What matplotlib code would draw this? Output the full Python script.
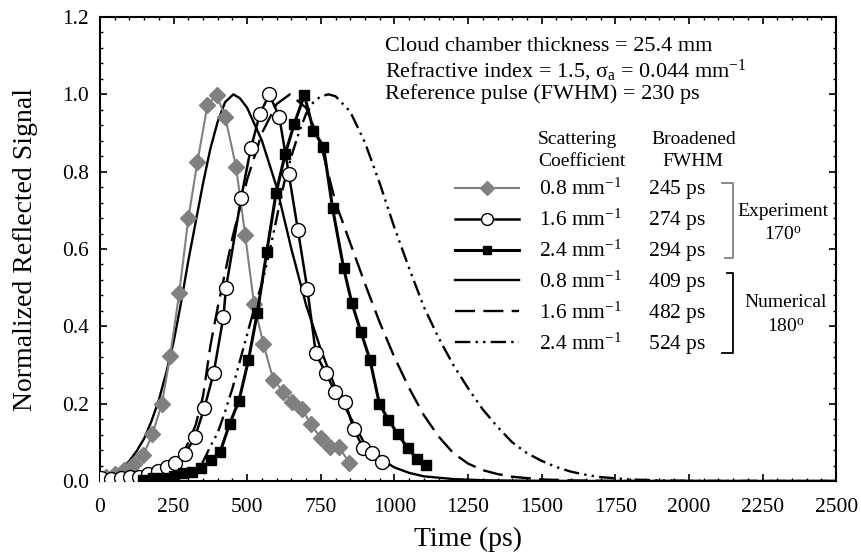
import matplotlib
matplotlib.use("Agg")
import matplotlib.pyplot as plt
from matplotlib.ticker import MultipleLocator

plt.rcParams['font.family'] = ['Liberation Serif', 'DejaVu Serif']
plt.rcParams['mathtext.fontset'] = 'custom'
plt.rcParams['mathtext.rm'] = 'Liberation Serif'
plt.rcParams['mathtext.it'] = 'Liberation Serif:italic'

# experiment, 0.8 mm-1 (grey diamonds)
exp08_t = [0, 20, 51, 83, 115, 147, 178, 210, 238, 269, 300, 331, 365, 396, 425,
           462, 493, 523, 555, 589, 623, 653, 687, 715, 750, 781, 813, 847]
exp08_v = [0.005, 0.010, 0.018, 0.028, 0.045, 0.067, 0.121, 0.199, 0.323, 0.485,
           0.679, 0.826, 0.972, 0.998, 0.942, 0.813, 0.636, 0.459, 0.354, 0.261,
           0.231, 0.205, 0.187, 0.147, 0.112, 0.088, 0.087, 0.046]

# experiment, 1.6 mm-1 (open circles)
exp16_t = [5, 36, 71, 102, 134, 164, 196, 226, 255, 289, 323, 354, 386, 419, 428,
           479, 512, 543, 575, 609, 641, 672, 704, 733, 766, 798, 832, 862, 894,
           924, 958]
exp16_v = [0.007, 0.006, 0.007, 0.011, 0.011, 0.018, 0.027, 0.035, 0.046, 0.070,
           0.115, 0.188, 0.279, 0.424, 0.500, 0.731, 0.860, 0.949, 1.000, 0.941,
           0.795, 0.650, 0.497, 0.330, 0.280, 0.231, 0.205, 0.134, 0.085, 0.073,
           0.048]

# experiment, 2.4 mm-1 (black squares)
exp24_t = [147, 181, 215, 250, 282, 311, 344, 378, 408, 440, 472, 504, 534, 566,
           598, 629, 660, 694, 725, 759, 790, 827, 855, 886, 917, 949, 979, 1011,
           1045, 1078, 1108]
exp24_v = [0.003, 0.008, 0.009, 0.013, 0.021, 0.022, 0.034, 0.054, 0.075, 0.147,
           0.208, 0.312, 0.434, 0.591, 0.745, 0.846, 0.924, 0.998, 0.906, 0.865,
           0.705, 0.552, 0.461, 0.386, 0.313, 0.199, 0.159, 0.122, 0.085, 0.056,
           0.041]

# numerical, 0.8 mm-1
num08_t = [0, 25, 50, 75, 100, 125, 150, 175, 200, 225, 250, 275, 300, 325, 350,
           375, 400, 425, 453, 475, 500, 550, 600, 650, 700, 750, 800, 850, 900,
           950, 1000, 1050, 1100, 1200, 1300, 1400, 1600, 2500]
num08_v = [0.002, 0.008, 0.02, 0.033, 0.052, 0.078, 0.11, 0.155, 0.21, 0.28, 0.36,
           0.46, 0.57, 0.67, 0.77, 0.86, 0.93, 0.98, 1.0, 0.99, 0.965, 0.88, 0.76,
           0.60, 0.455, 0.34, 0.24, 0.165, 0.095, 0.058, 0.035, 0.021, 0.012,
           0.005, 0.002, 0.001, 0.0, 0.0]

# numerical, 1.6 mm-1
num16_t = [0, 100, 150, 200, 250, 275, 300, 325, 350, 375, 400, 450, 500, 550, 600,
           645, 700, 750, 800, 850, 900, 950, 1000, 1050, 1100, 1150, 1200, 1250,
           1300, 1350, 1400, 1500, 1600, 1700, 1800, 2500]
num16_v = [0.0, 0.002, 0.006, 0.015, 0.035, 0.06, 0.10, 0.145, 0.22, 0.35, 0.45,
           0.63, 0.78, 0.90, 0.975, 1.0, 0.965, 0.87, 0.72, 0.615, 0.51, 0.41, 0.32,
           0.24, 0.17, 0.115, 0.072, 0.045, 0.028, 0.018, 0.011, 0.004, 0.0015,
           0.0005, 0.0, 0.0]

# numerical, 2.4 mm-1
num24_t = [0, 200, 250, 300, 325, 350, 375, 400, 425, 450, 475, 500, 525, 550, 575,
           600, 625, 650, 675, 700, 725, 750, 776, 800, 850, 900, 950, 1000, 1050,
           1100, 1150, 1200, 1250, 1300, 1350, 1400, 1450, 1500, 1550, 1600, 1650,
           1700, 1800, 1900, 2000, 2100, 2500]
num24_v = [0.0, 0.001, 0.006, 0.018, 0.03, 0.05, 0.09, 0.125, 0.18, 0.24, 0.31,
           0.38, 0.45, 0.51, 0.59, 0.68, 0.77, 0.84, 0.90, 0.95, 0.98, 0.995, 1.0,
           0.995, 0.955, 0.875, 0.77, 0.655, 0.55, 0.45, 0.37, 0.30, 0.24, 0.185,
           0.14, 0.10, 0.072, 0.052, 0.036, 0.024, 0.016, 0.01, 0.004, 0.0015,
           0.0005, 0.0, 0.0]

coefs = ["0.8", "1.6", "2.4", "0.8", "1.6", "2.4"]
fwhm = [245, 274, 294, 409, 482, 524]
labels = [c + r" mm$^{-1}$     " + str(f) + " ps" for c, f in zip(coefs, fwhm)]

grey = '#808080'

fig = plt.figure(figsize=(8.62, 5.58), dpi=100)
ax = fig.add_axes([0.116, 0.138, 0.854, 0.8315])

ax.plot(exp08_t, exp08_v, color=grey, lw=1.5, marker='D', ms=8.5, mfc=grey,
        mec=grey, label=labels[0], zorder=4)
ax.plot(exp16_t, exp16_v, color='black', lw=1.8, marker='o', ms=10, mfc='white',
        mec='black', mew=1.0, label=labels[1], zorder=5)
ax.plot(exp24_t, exp24_v, color='black', lw=2.2, marker='s', ms=7, mfc='black',
        mec='black', label=labels[2], zorder=6)
ax.plot(num08_t, num08_v, color='black', lw=1.7, ls='-', label=labels[3], zorder=3)
ax.plot(num16_t, num16_v, color='black', lw=1.7, ls=(0, (8.5, 3.5)), label=labels[4],
        zorder=3)
ax.plot(num24_t, num24_v, color='black', lw=1.7, ls=(0, (6.5, 2.2, 1, 2.2, 1, 2.2)),
        label=labels[5], zorder=3)

ax.set_xlim(0, 2500)
ax.set_ylim(0, 1.2)
ax.xaxis.set_major_locator(MultipleLocator(250))
ax.xaxis.set_minor_locator(MultipleLocator(50))
ax.yaxis.set_major_locator(MultipleLocator(0.2))
ax.yaxis.set_minor_locator(MultipleLocator(0.04))
ax.yaxis.set_major_formatter(plt.FormatStrFormatter('%.1f'))
ax.tick_params(which='both', direction='in', top=True, right=True, labelsize=15.5)
ax.tick_params(which='major', length=5, width=1.2)
ax.tick_params(which='minor', length=2.5, width=1.0)
ax.tick_params(axis='x', pad=12)
ax.tick_params(axis='y', pad=8)
for s in ax.spines.values():
    s.set_linewidth(1.5)

ax.set_xlabel('Time (ps)', fontsize=20, labelpad=7)
ax.set_ylabel('Normalized Reflected Signal', fontsize=20, labelpad=17)

ax.text(0.387, 0.937, 'Cloud chamber thickness = 25.4 mm', transform=ax.transAxes,
        fontsize=16, va='center')
ax.text(0.387, 0.884, r'Refractive index = 1.5, σ$_{\mathrm{a}}$ = 0.044 mm$^{-1}$',
        transform=ax.transAxes, fontsize=16, va='center')
ax.text(0.387, 0.833, 'Reference pulse (FWHM) = 230 ps', transform=ax.transAxes,
        fontsize=16, va='center')

ax.text(0.595, 0.735, 'Scattering', transform=ax.transAxes, fontsize=14, va='center')
ax.text(0.595, 0.688, 'Coefficient', transform=ax.transAxes, fontsize=14, va='center')
ax.text(0.806, 0.735, 'Broadened', transform=ax.transAxes, fontsize=14, va='center',
        ha='center')
ax.text(0.806, 0.688, 'FWHM', transform=ax.transAxes, fontsize=14, va='center',
        ha='center')

leg = ax.legend(loc='upper left', bbox_to_anchor=(0.482, 0.657), frameon=False,
                fontsize=15.5, handlelength=3.0, handletextpad=0.9,
                labelspacing=0.22, borderpad=0, borderaxespad=0, markerscale=0.85)

# brackets grouping the legend rows
ax.plot([0.845, 0.860, 0.860, 0.849], [0.642, 0.642, 0.481, 0.481], color=grey,
        lw=1.3, transform=ax.transAxes, clip_on=False)
ax.plot([0.852, 0.860, 0.860, 0.845], [0.448, 0.448, 0.276, 0.276], color='black',
        lw=1.3, transform=ax.transAxes, clip_on=False)
ax.text(0.928, 0.580, 'Experiment', transform=ax.transAxes, fontsize=14,
        ha='center', va='center')
ax.text(0.928, 0.530, r'170$^{\mathrm{o}}$', transform=ax.transAxes, fontsize=14,
        ha='center', va='center')
ax.text(0.931, 0.384, 'Numerical', transform=ax.transAxes, fontsize=14,
        ha='center', va='center')
ax.text(0.931, 0.332, r'180$^{\mathrm{o}}$', transform=ax.transAxes, fontsize=14,
        ha='center', va='center')

fig.savefig('out.png', dpi=100)
